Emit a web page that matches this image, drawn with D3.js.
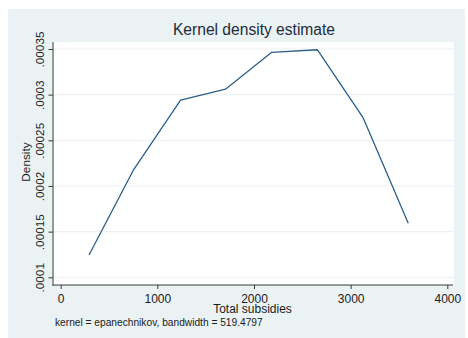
<!DOCTYPE html>
<html>
<head>
<meta charset="utf-8">
<script src="https://cdn.jsdelivr.net/npm/d3@7"></script>
<style>
  html, body { margin: 0; padding: 0; background: #ffffff; }
  svg { display: block; font-family: "Liberation Sans", Arial, sans-serif; }
</style>
</head>
<body>
<svg id="chart" width="468" height="338"></svg>
<script>
// Kernel density of total subsidies (Epanechnikov kernel)
const subsidies = [293, 750, 1240, 1705, 2180, 2655, 3130, 3596];
const density   = [0.0001245, 0.000217, 0.000294, 0.000306, 0.0003462, 0.0003492, 0.0002745, 0.0001591];
const xTicks = [0, 1000, 2000, 3000, 4000];
const yTicks = [0.0001, 0.00015, 0.0002, 0.00025, 0.0003, 0.00035];
const yTickLabels = [".0001", ".00015", ".0002", ".00025", ".0003", ".00035"];

const svg = d3.select("#chart");

// graph region
svg.append("rect").attr("x", 8).attr("y", 9).attr("width", 457).attr("height", 329)
  .attr("fill", "#eaf2f3");

// plot region
const plot = { left: 53, right: 454, top: 42, bottom: 285 };
svg.append("rect").attr("x", plot.left).attr("y", plot.top)
  .attr("width", plot.right - plot.left).attr("height", plot.bottom - plot.top)
  .attr("fill", "#ffffff");

const x = d3.scaleLinear().domain([0, 4000]).range([60.7, 447.3]);
const y = d3.scaleLinear().domain([0.0001, 0.00035]).range([277.3, 49]);

// horizontal grid
svg.append("g").selectAll("line").data(yTicks).join("line")
  .attr("x1", plot.left).attr("x2", plot.right)
  .attr("y1", d => y(d)).attr("y2", d => y(d))
  .attr("stroke", "#eaf2f3").attr("stroke-width", 1.2);

// y axis
const yAxis = d3.axisLeft(y).tickValues(yTicks)
  .tickFormat((d, i) => yTickLabels[i]).tickSize(4.5).tickPadding(5);
const gy = svg.append("g").attr("transform", `translate(${plot.left},0)`).call(yAxis);
gy.select(".domain").remove();
gy.append("line").attr("x1", 0).attr("x2", 0).attr("y1", plot.top).attr("y2", plot.bottom + 1)
  .attr("stroke", "#3a3a3a").attr("stroke-width", 1);
gy.selectAll(".tick line").attr("stroke", "#3a3a3a");
gy.selectAll(".tick text")
  .attr("transform", "rotate(-90)")
  .attr("x", 0).attr("y", -9).attr("dy", 0)
  .attr("text-anchor", "middle")
  .attr("fill", "#1b1b1b").attr("font-size", "11.8px");

// x axis
const xAxis = d3.axisBottom(x).tickValues(xTicks).tickFormat(d3.format("d"))
  .tickSize(4).tickPadding(7);
const gx = svg.append("g").attr("transform", `translate(0,${plot.bottom})`).call(xAxis);
gx.select(".domain").remove();
gx.append("line").attr("x1", plot.left).attr("x2", plot.right - 1).attr("y1", 0).attr("y2", 0)
  .attr("stroke", "#3a3a3a").attr("stroke-width", 1);
gx.selectAll(".tick line").attr("stroke", "#3a3a3a");
gx.selectAll(".tick text").attr("dy", 0).attr("y", 18.3)
  .attr("fill", "#1b1b1b").attr("font-size", "12px");

// density line
const line = d3.line().x((d, i) => x(subsidies[i])).y(d => y(d));
svg.append("path").datum(density)
  .attr("d", line)
  .attr("fill", "none")
  .attr("stroke", "#2d5f86")
  .attr("stroke-width", 1.3)
  .attr("stroke-linejoin", "round");

// titles
svg.append("text").attr("x", 254).attr("y", 35).attr("text-anchor", "middle")
  .attr("font-size", "15.6px").attr("fill", "#1e2b3b").text("Kernel density estimate");

svg.append("text").attr("transform", "translate(29.5,162) rotate(-90)")
  .attr("text-anchor", "middle").attr("font-size", "11.8px").attr("fill", "#1b1b1b")
  .text("Density");

svg.append("text").attr("x", 252.5).attr("y", 313).attr("text-anchor", "middle")
  .attr("font-size", "12px").attr("fill", "#1b1b1b").text("Total subsidies");

svg.append("text").attr("x", 55).attr("y", 325.7)
  .attr("font-size", "10.2px").attr("fill", "#1b1b1b")
  .text("kernel = epanechnikov, bandwidth = 519.4797");
</script>
</body>
</html>
